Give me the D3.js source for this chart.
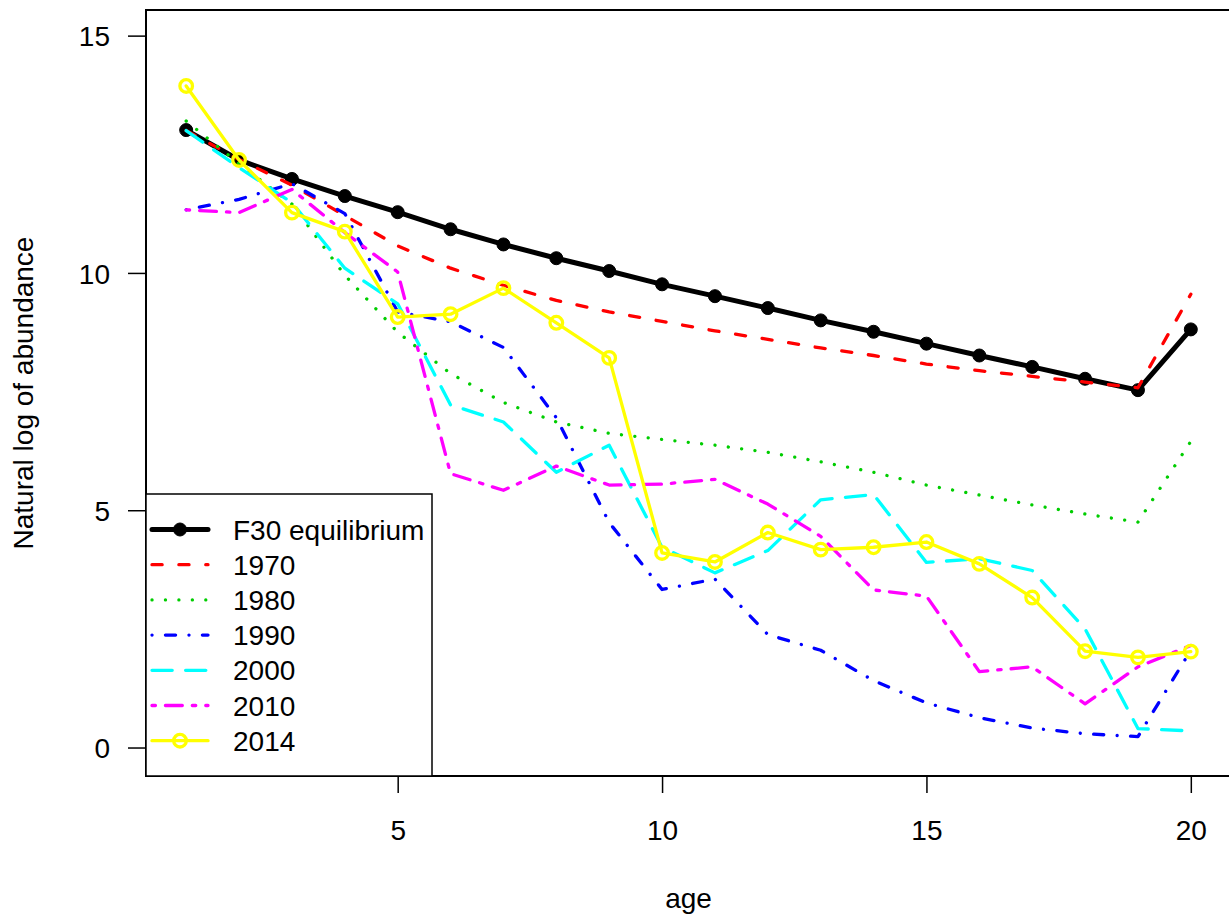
<!DOCTYPE html>
<html>
<head>
<meta charset="utf-8">
<script src="https://cdn.jsdelivr.net/npm/d3@7"></script>
<style>
body { margin: 0; background: #fff; }
svg { display: block; overflow: hidden; }
text { font-family: "Liberation Sans", Arial, sans-serif; fill: #000; }
</style>
</head>
<body>
<script>
// data
var ages = [1, 2, 3, 4, 5, 6, 7, 8, 9, 10, 11, 12, 13, 14, 15, 16, 17, 18, 19, 20];
var f30 = [13.01, 12.38, 11.98, 11.62, 11.28, 10.92, 10.6, 10.31, 10.04, 9.76, 9.51, 9.26, 9.0, 8.76, 8.51, 8.26, 8.02, 7.77, 7.53, 8.81];
var y1970 = [13.0, 12.39, 11.85, 11.21, 10.57, 10.1, 9.74, 9.42, 9.18, 8.98, 8.78, 8.6, 8.42, 8.26, 8.08, 7.94, 7.82, 7.7, 7.58, 9.55];
var y1980 = [13.2, 12.3, 11.45, 9.95, 8.75, 7.88, 7.27, 6.86, 6.62, 6.49, 6.37, 6.22, 6.02, 5.8, 5.53, 5.32, 5.11, 4.92, 4.75, 6.45];
var y1990 = [11.33, 11.55, 11.88, 11.25, 9.18, 8.97, 8.43, 6.95, 4.74, 3.33, 3.55, 2.38, 2.05, 1.41, 0.94, 0.63, 0.41, 0.29, 0.23, 2.05];
var y2000 = [13.0, 12.22, 11.48, 10.1, 9.35, 7.22, 6.86, 5.8, 6.37, 4.22, 3.68, 4.15, 5.22, 5.33, 3.9, 3.98, 3.73, 2.5, 0.4, 0.35];
var y2010 = [11.33, 11.27, 11.76, 10.85, 10.02, 5.77, 5.42, 5.93, 5.53, 5.55, 5.65, 5.13, 4.45, 3.32, 3.19, 1.6, 1.7, 0.92, 1.7, 2.15];
var y2014 = [13.94, 12.38, 11.27, 10.87, 9.07, 9.13, 9.68, 8.95, 8.21, 4.1, 3.91, 4.53, 4.17, 4.22, 4.33, 3.87, 3.16, 2.03, 1.9, 2.02];
var xTicks = [5, 10, 15, 20];
var yTicks = [0, 5, 10, 15];
var legendLabels = ["F30 equilibrium", "1970", "1980", "1990", "2000", "2010", "2014"];

var series = [
    { name: legendLabels[0], values: f30, color: "#000000", lty: null, width: 5, pch: "solid" },
    { name: legendLabels[1], values: y1970, color: "#FF0000", lty: "44", width: 3.3, pch: null },
    { name: legendLabels[2], values: y1980, color: "#00CD00", lty: "13", width: 3.3, pch: null },
    { name: legendLabels[3], values: y1990, color: "#0000FF", lty: "1343", width: 3.3, pch: null },
    { name: legendLabels[4], values: y2000, color: "#00FFFF", lty: "73", width: 3.3, pch: null },
    { name: legendLabels[5], values: y2010, color: "#FF00FF", lty: "2262", width: 3.3, pch: null },
    { name: legendLabels[6], values: y2014, color: "#FFFF00", lty: null, width: 3.3, pch: "open" }
];

var W = 1229, H = 919;
var plot = { left: 146, right: 1231, top: 10, bottom: 776 };

var x = d3.scaleLinear().domain([0.24, 20.76]).range([plot.left, plot.right]);
var y = d3.scaleLinear().domain([-0.6, 15.54]).range([plot.bottom, plot.top]);

// R style lty -> dasharray (round caps)
function dashArray(lty, w) {
    if (!lty) return null;
    var u = 3.36;
    return lty.split("").map(function (c, i) {
        var d = parseInt(c, 16) * u;
        return i % 2 === 0 ? Math.max(d - w, 0.01) : d + w;
    }).join(",");
}

var svg = d3.select("body").append("svg")
    .attr("width", W)
    .attr("height", H);

var line = d3.line()
    .x(function (d, i) { return x(ages[i]); })
    .y(function (d) { return y(d); });

// lines, drawn in legend order
series.forEach(function (s) {
    svg.append("path")
        .datum(s.values)
        .attr("fill", "none")
        .attr("stroke", s.color)
        .attr("stroke-width", s.width)
        .attr("stroke-linecap", "round")
        .attr("stroke-linejoin", "round")
        .attr("stroke-dasharray", dashArray(s.lty, s.width))
        .attr("d", line);

    if (s.pch) {
        svg.selectAll(null)
            .data(s.values)
            .enter().append("circle")
            .attr("cx", function (d, i) { return x(ages[i]); })
            .attr("cy", function (d) { return y(d); })
            .attr("r", s.pch === "solid" ? 6.5 : 6.3)
            .attr("fill", s.pch === "solid" ? s.color : "none")
            .attr("stroke", s.color)
            .attr("stroke-width", s.pch === "solid" ? 1 : 3.3);
    }
});

// plot box
svg.append("rect")
    .attr("x", plot.left)
    .attr("y", plot.top)
    .attr("width", plot.right - plot.left)
    .attr("height", plot.bottom - plot.top)
    .attr("fill", "none")
    .attr("stroke", "#000")
    .attr("stroke-width", 2);

// x axis
var gx = svg.append("g")
    .attr("transform", "translate(0," + plot.bottom + ")")
    .call(d3.axisBottom(x).tickValues(xTicks).tickSize(17).tickFormat(d3.format("d")));
gx.select(".domain").remove();
gx.selectAll(".tick line").attr("stroke-width", 1.5);
gx.selectAll(".tick text")
    .attr("y", 64).attr("dy", null)
    .style("font-size", "28px")
    .style("font-family", "'Liberation Sans', Arial, sans-serif");

// y axis
var gy = svg.append("g")
    .attr("transform", "translate(" + plot.left + ",0)")
    .call(d3.axisLeft(y).tickValues(yTicks).tickSize(18).tickFormat(d3.format("d")));
gy.select(".domain").remove();
gy.selectAll(".tick line").attr("stroke-width", 1.5);
gy.selectAll(".tick text")
    .attr("x", -36).attr("dy", "0.36em")
    .style("font-size", "28px")
    .style("font-family", "'Liberation Sans', Arial, sans-serif");

// axis labels
svg.append("text")
    .attr("x", (plot.left + plot.right) / 2)
    .attr("y", 908)
    .attr("text-anchor", "middle")
    .style("font-size", "28px")
    .text("age");

svg.append("text")
    .attr("transform", "rotate(-90)")
    .attr("x", -(plot.top + plot.bottom) / 2)
    .attr("y", 33)
    .attr("text-anchor", "middle")
    .style("font-size", "28px")
    .text("Natural log of abundance");

// legend
var leg = svg.append("g");
leg.append("rect")
    .attr("x", plot.left)
    .attr("y", 494)
    .attr("width", 286)
    .attr("height", plot.bottom - 494)
    .attr("fill", "#fff")
    .attr("stroke", "#000")
    .attr("stroke-width", 1.5);

series.forEach(function (s, i) {
    var ly = 529.5 + i * 35.2;
    leg.append("line")
        .attr("x1", 152).attr("x2", 208)
        .attr("y1", ly).attr("y2", ly)
        .attr("stroke", s.color)
        .attr("stroke-width", s.width)
        .attr("stroke-linecap", "round")
        .attr("stroke-dasharray", dashArray(s.lty, s.width));
    if (s.pch) {
        leg.append("circle")
            .attr("cx", 180).attr("cy", ly)
            .attr("r", s.pch === "solid" ? 6.5 : 6.3)
            .attr("fill", s.pch === "solid" ? s.color : "none")
            .attr("stroke", s.color)
            .attr("stroke-width", s.pch === "solid" ? 1 : 3.3);
    }
    leg.append("text")
        .attr("x", 233)
        .attr("y", ly)
        .attr("dy", "0.36em")
        .style("font-size", "28px")
        .text(s.name);
});
</script>
</body>
</html>
